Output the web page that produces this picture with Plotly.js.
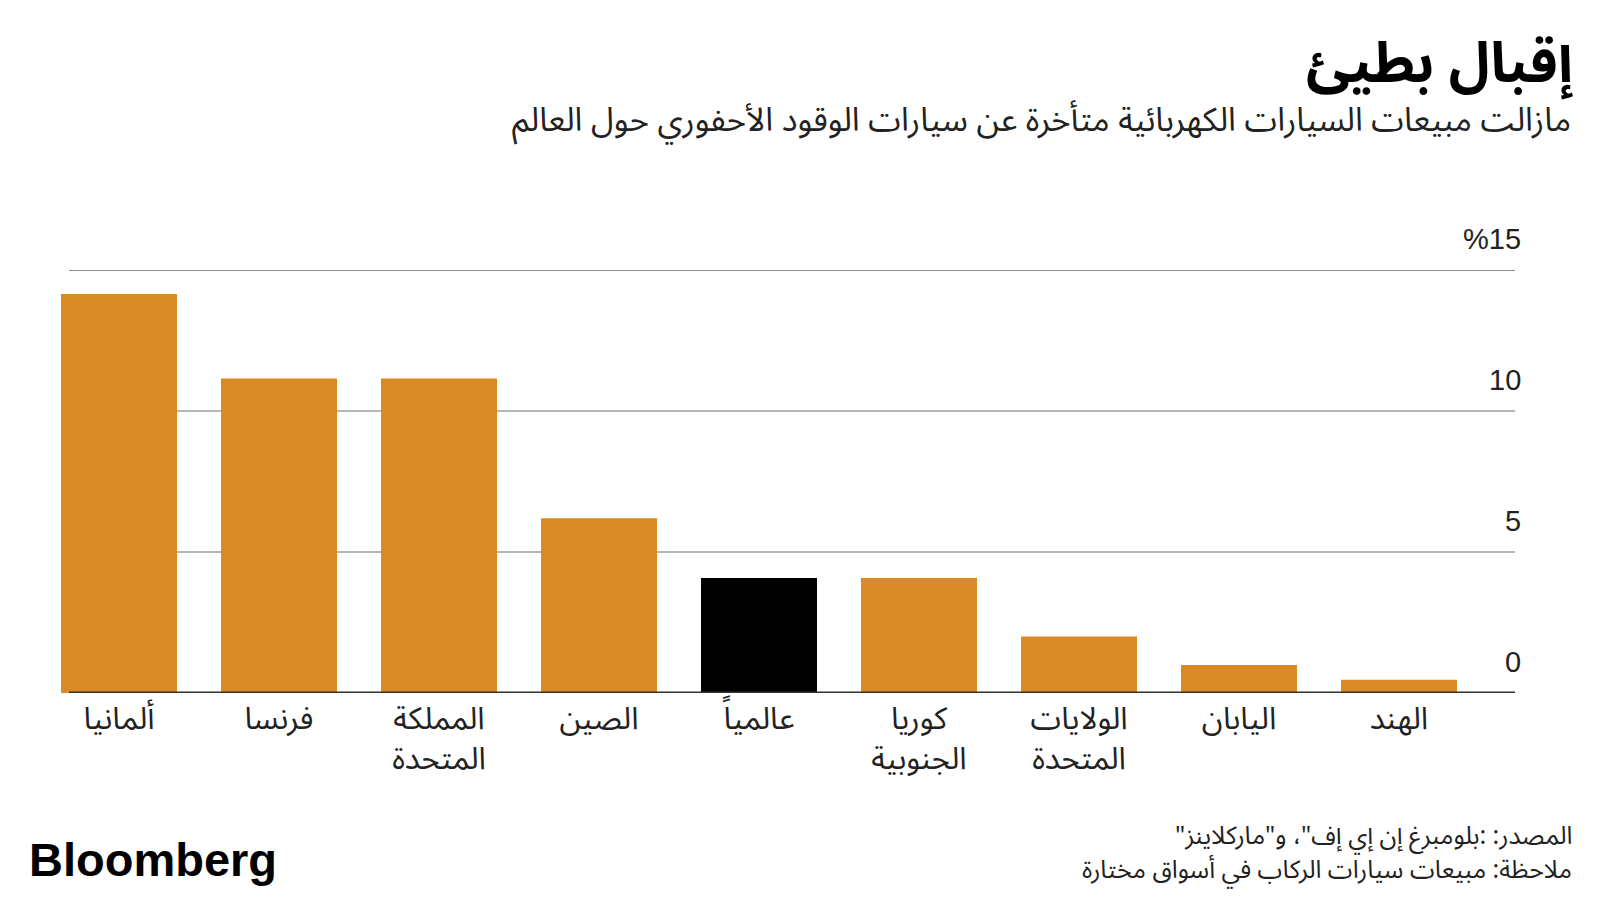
<!DOCTYPE html>
<html>
<head>
<meta charset="utf-8">
<script src="https://cdn.plot.ly/plotly-3.0.1.min.js"></script>
<style>
  html, body { margin: 0; padding: 0; background: #fff; }
  #chart { width: 1600px; height: 900px; }
</style>
</head>
<body>
<div id="chart"></div>
<script>
// ---- data ----
const categories = ['ألمانيا', 'فرنسا', 'المملكة<br>المتحدة', 'الصين', 'عالمياً', 'كوريا<br>الجنوبية', 'الولايات<br>المتحدة', 'اليابان', 'الهند'];
const evShare = [14.15, 11.15, 11.15, 6.2, 4.08, 4.08, 2.0, 0.99, 0.47];
const highlightCategory = 'عالمياً';
const yTickValues = [0, 5, 10, 15];
const yTickLabels = ['0', '5', '10', '%15'];

const titleText = 'إقبال بطيئ';
const subtitleText = 'مازالت مبيعات السيارات الكهربائية متأخرة عن سيارات الوقود الأحفوري حول العالم';
const sourceText = 'المصدر: :بلومبرغ إن إي إف"، و"ماركلاينز"';
const noteText = 'ملاحظة: مبيعات سيارات الركاب في أسواق مختارة';
const brandText = 'Bloomberg';

// ---- styling ----
const ORANGE = '#DA8A25';
const BLACK = '#000000';
const AR_FONT = '"Noto Sans Arabic", "DejaVu Sans", sans-serif';
const NUM_FONT = '"Liberation Sans", Arial, sans-serif';
const RLE = '\u202B', PDF = '\u202C';

const L = 39, R = 1515, T = 270, B = 693.3;
const W = 1600, H = 900;
const pw = R - L, ph = B - T;
const gridStartPaper = (69 - L) / pw;
const pxX = px => (px - L) / pw;
const pxY = py => (B - py) / ph;

const barColors = categories.map(c => c === highlightCategory ? BLACK : ORANGE);

const trace = {
  type: 'bar',
  x: categories,
  y: evShare,
  marker: { color: barColors, line: { width: 0 } },
  hoverinfo: 'skip'
};

const shapes = yTickValues.map(v => ({
  type: 'line', xref: 'paper', yref: 'y',
  x0: gridStartPaper, x1: 1, y0: v, y1: v,
  layer: v === 0 ? 'above' : 'below',
  line: {
    color: v === 0 ? '#333333' : (v === 15 ? '#8c8c8c' : '#6e6e6e'),
    width: v === 0 ? 3 : (v === 15 ? 2 : 1)
  }
}));

const annotations = [];
yTickValues.forEach((v, i) => {
  annotations.push({
    xref: 'paper', yref: 'y', x: 1, y: v,
    xanchor: 'right', yanchor: 'middle', xshift: 8, yshift: 31,
    text: yTickLabels[i], showarrow: false,
    font: { family: NUM_FONT, size: 29, color: '#222222' }
  });
});
annotations.push({
  xref: 'paper', yref: 'paper', x: pxX(1573), y: pxY(120),
  xanchor: 'right', yanchor: 'middle',
  text: RLE + subtitleText + PDF, showarrow: false,
  font: { family: AR_FONT, size: 33, color: '#222222' }
});
annotations.push({
  xref: 'paper', yref: 'paper', x: pxX(1573), y: pxY(836),
  xanchor: 'right', yanchor: 'middle', borderpad: 0,
  text: RLE + sourceText + PDF, showarrow: false,
  font: { family: AR_FONT, size: 25, color: '#222222' }
});
annotations.push({
  xref: 'paper', yref: 'paper', x: pxX(1573), y: pxY(870),
  xanchor: 'right', yanchor: 'middle', borderpad: 0,
  text: RLE + noteText + PDF, showarrow: false,
  font: { family: AR_FONT, size: 25, color: '#222222' }
});
annotations.push({
  xref: 'paper', yref: 'paper', x: pxX(27), y: pxY(860),
  xanchor: 'left', yanchor: 'middle',
  text: '<b>' + brandText + '</b>', showarrow: false,
  font: { family: NUM_FONT, size: 47, color: '#000000' }
});

const layout = {
  width: W, height: H,
  paper_bgcolor: '#ffffff', plot_bgcolor: '#ffffff',
  margin: { l: L, r: W - R, t: T, b: H - B, pad: 0 },
  showlegend: false,
  bargap: 0.275,
  title: {
    text: '<b>' + titleText + '</b>',
    xref: 'container', yref: 'container',
    x: 1573 / W, xanchor: 'right',
    y: 1 - 62 / H, yanchor: 'middle',
    font: { family: AR_FONT, size: 56, color: '#000000' }
  },
  xaxis: {
    type: 'category',
    range: [-0.5, 8.725],
    showgrid: false, zeroline: false, showline: false,
    ticks: '', ticklabelstandoff: 4,
    tickfont: { family: AR_FONT, size: 31, color: '#222222' },
    fixedrange: true
  },
  yaxis: {
    range: [0, 15],
    showgrid: false, zeroline: false, showline: false,
    showticklabels: false, ticks: '',
    fixedrange: true
  },
  shapes: shapes,
  annotations: annotations
};

Plotly.newPlot('chart', [trace], layout, { staticPlot: true, displayModeBar: false });
</script>
</body>
</html>
